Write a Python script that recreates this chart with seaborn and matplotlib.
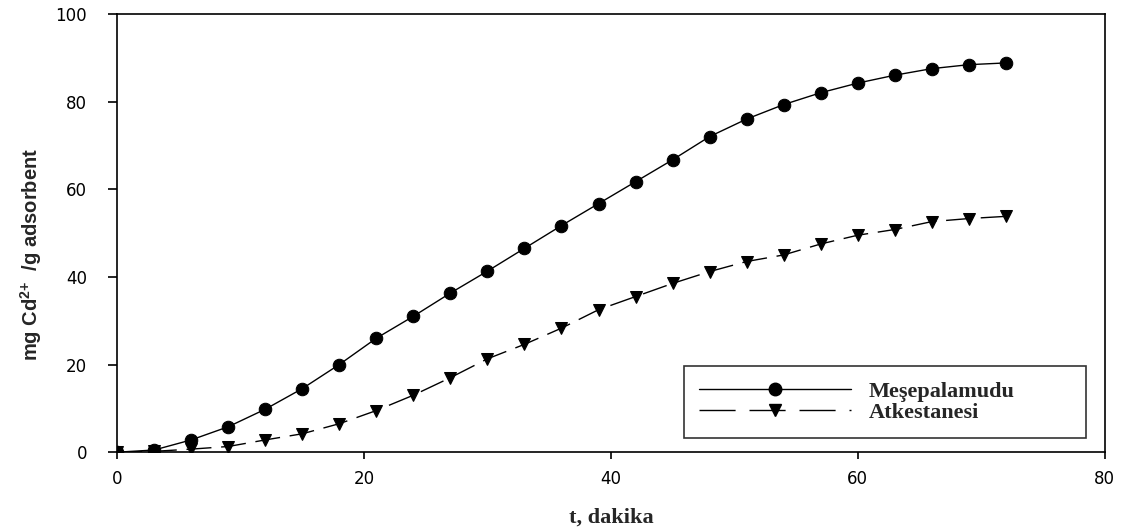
import numpy as np
import pandas as pd
import matplotlib
matplotlib.use("Agg")
import matplotlib.pyplot as plt
import seaborn as sns
from matplotlib.lines import Line2D

# time points (minutes)
t_dakika = [0, 3, 6, 9, 12, 15, 18, 21, 24, 27, 30, 33, 36,
            39, 42, 45, 48, 51, 54, 57, 60, 63, 66, 69, 72]

# mg Cd2+ / g adsorbent
mesepalamudu = [0, 0.5, 2.8, 5.8, 9.8, 14.5, 20.0, 26.0, 31.0, 36.3, 41.3, 46.5, 51.7,
                56.7, 61.7, 66.7, 72.0, 76.0, 79.3, 82.0, 84.2, 86.0, 87.5, 88.4, 88.8]
atkestanesi = [0, 0.2, 0.7, 1.3, 2.8, 4.2, 6.5, 9.5, 13.0, 17.0, 21.3, 24.6, 28.3,
               32.5, 35.5, 38.5, 41.2, 43.5, 45.0, 47.5, 49.5, 50.8, 52.6, 53.3, 53.8]

series_names = ["Meşepalamudu", "Atkestanesi"]

df = pd.DataFrame({
    "t": t_dakika * 2,
    "q": mesepalamudu + atkestanesi,
    "seri": [series_names[0]] * len(t_dakika) + [series_names[1]] * len(t_dakika),
})

sns.set_style("ticks")
plt.rcParams["font.family"] = ["DejaVu Sans"]
plt.rcParams["mathtext.fontset"] = "custom"
plt.rcParams["mathtext.bf"] = "Liberation Sans:bold"
plt.rcParams["mathtext.rm"] = "Liberation Sans"

fig = plt.figure(figsize=(11.26, 5.32), dpi=100)
ax = fig.add_axes([0.104, 0.150, 0.877, 0.824])

dash = (18, 7)
sns.lineplot(data=df, x="t", y="q", hue="seri", style="seri",
             palette=["black", "black"],
             markers={series_names[0]: "o", series_names[1]: "v"},
             dashes={series_names[0]: "", series_names[1]: dash},
             markersize=9, linewidth=1.0, markeredgecolor="black",
             ax=ax, legend=False)

ax.set_xlim(0, 80)
ax.set_ylim(0, 100)
ax.set_xticks([0, 20, 40, 60, 80])
ax.set_yticks([0, 20, 40, 60, 80, 100])
for s in ax.spines.values():
    s.set_visible(True)
    s.set_color("black")
    s.set_linewidth(1.2)
ax.tick_params(direction="out", length=6.5, width=1.2, labelsize=12, colors="black")
ax.tick_params(axis="y", pad=15)
ax.tick_params(axis="x", length=5, pad=8)

serif = ["Liberation Serif", "DejaVu Serif"]
ax.set_xlabel("t, dakika", family=serif, fontweight="bold", fontsize=16, labelpad=14)
ax.set_ylabel(r"mg Cd$^{\mathbf{2{+}}}$  /g adsorbent", family=["Liberation Sans", "DejaVu Sans"],
              fontweight="bold", fontsize=14.5)
ax.yaxis.set_label_coords(-0.074, 0.45)

handles = [
    Line2D([], [], color="black", lw=1.0, marker="o", markersize=9),
    Line2D([], [], color="black", lw=1.0, marker="v", markersize=9, dashes=(26, 10)),
]
leg = ax.legend(handles, series_names, loc="lower left",
                bbox_to_anchor=(0.574, 0.032, 0.407, 0.155), mode="expand",
                frameon=True, fancybox=False, edgecolor="black", handlelength=6.8,
                labelspacing=0.0, borderpad=0.7, handletextpad=0.8, borderaxespad=0,
                prop={"family": serif, "weight": "bold", "size": 16})
leg.get_frame().set_linewidth(1.2)

fig.savefig("out.png", dpi=100)
